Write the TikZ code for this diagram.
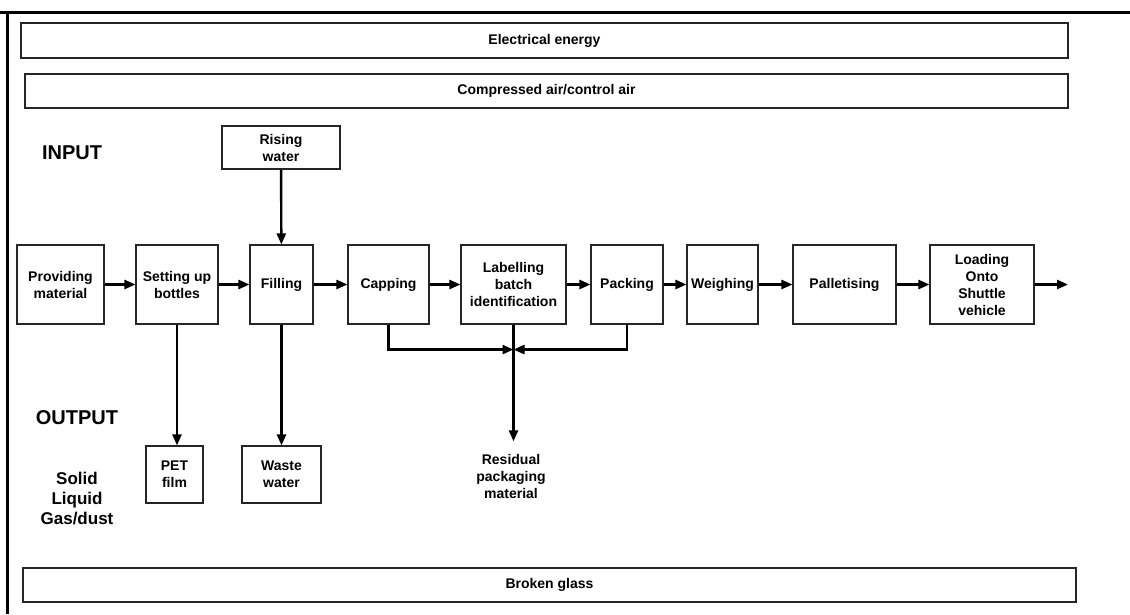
\documentclass[tikz,border=0pt]{standalone}
\usepackage{fontspec}
\setmainfont{Liberation Sans}
\usetikzlibrary{arrows.meta}

\tikzset{
  box/.style={draw=black!85, line width=1.1pt, align=center, inner sep=2pt,
    font=\fontsize{14}{17}\selectfont\bfseries},
  stage/.style={box, minimum height=79pt},
  band/.style={box, minimum height=35pt},
  heading/.style={font=\fontsize{20}{24}\selectfont\bfseries},
  flow/.style={-{Triangle[length=11pt,width=9pt]}, line width=2.4pt},
}

\begin{document}
\begin{tikzpicture}[x=1pt,y=-1pt]
\useasboundingbox (0,0) rectangle (1130,614);

% Frame
\draw[line width=3pt] (0,12.5) -- (1130,12.5);
\draw[line width=3pt] (7,11) -- (7,614);

% Supply bands
\node[band, minimum width=1047pt] (elec) at (544.5,40.5) {Electrical energy};
\node[band, minimum width=1043pt, minimum height=34pt] (air) at (546.5,91) {Compressed air/control air};
\node[band, minimum width=1053pt, minimum height=34pt] (glass) at (549.5,585) {Broken glass};

% Headings
\node[heading] (input) at (72,153) {INPUT};
\node[heading] (output) at (77,418) {OUTPUT};
\node[font=\fontsize{17}{20}\selectfont\bfseries, align=center] (kinds) at (77,499) {Solid\\Liquid\\Gas/dust};

% Process chain
\node[stage, minimum width=87pt] (prov) at (60.5,284.5) {Providing\\material};
\node[stage, minimum width=82pt] (setup) at (177,284.5) {Setting up\\bottles};
\node[stage, minimum width=63pt] (fill) at (281.5,284.5) {Filling};
\node[stage, minimum width=81pt] (cap) at (388.5,284.5) {Capping};
\node[stage, minimum width=105pt] (label) at (513.5,284.5) {Labelling\\batch\\identification};
\node[stage, minimum width=72pt] (pack) at (627,284.5) {Packing};
\node[stage, minimum width=71pt] (weigh) at (722.5,284.5) {Weighing};
\node[stage, minimum width=103pt] (pallet) at (844.5,284.5) {Palletising};
\node[stage, minimum width=104pt] (load) at (982,284.5) {Loading\\Onto\\Shuttle\\vehicle};
\coordinate (exit) at (1068,284.5);

% Inputs and outputs
\node[box, minimum width=118pt, minimum height=43pt] (rise) at (281,147.5) {Rising\\water};
\node[box, minimum width=57pt, minimum height=57pt] (pet) at (174.5,474.5) {PET\\film};
\node[box, minimum width=79pt, minimum height=57pt] (waste) at (281.5,474.5) {Waste\\water};
\node[font=\fontsize{14}{17}\selectfont\bfseries, align=center] (resid) at (511,476) {Residual\\packaging\\material};

% Main flow
\draw[flow] (prov) -- (setup);
\draw[flow] (setup) -- (fill);
\draw[flow] (fill) -- (cap);
\draw[flow] (cap) -- (label);
\draw[flow] (label) -- (pack);
\draw[flow] (pack) -- (weigh);
\draw[flow] (weigh) -- (pallet);
\draw[flow] (pallet) -- (load);
\draw[flow] (load) -- (exit);

% Side flows
\draw[flow] (rise) -- (fill);
\draw[flow] (setup.south) -- (setup.south |- pet.north);
\draw[flow] (fill) -- (waste);
\coordinate (merge) at ([yshift=-25pt]label.south);
\draw[flow] (cap.south) |- (merge);
\draw[flow] (pack.south) |- (merge);
\draw[flow, shorten >=9pt] (label.south) -- (label.south |- resid.north);
\end{tikzpicture}
\end{document}
